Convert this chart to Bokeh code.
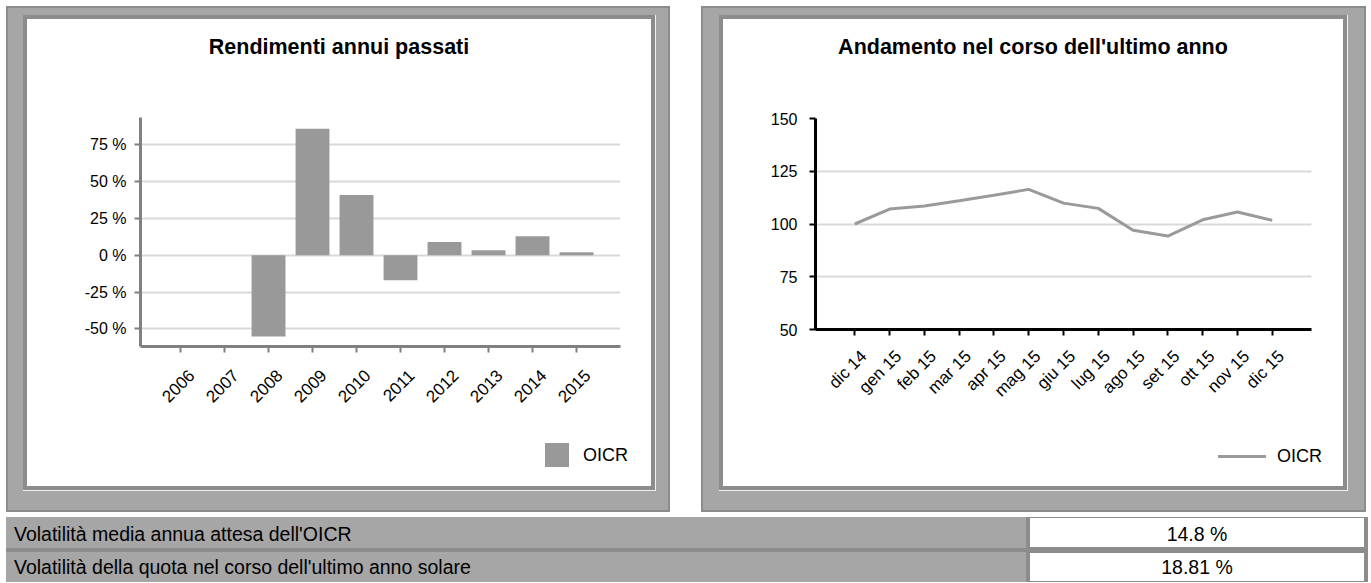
import math
from bokeh.plotting import figure
from bokeh.models import Div, Spacer, FixedTicker, Range1d, LinearAxis
from bokeh.layouts import row, column
from bokeh.embed import file_html
from bokeh.resources import INLINE

FONT = "Liberation Sans"
GRAY = "#a6a6a6"
DARK = "#8c8c8c"
BAR = "#999999"
LINE = "#9a9a9a"

# ---------------- data ----------------
years = [2006, 2007, 2008, 2009, 2010, 2011, 2012, 2013, 2014, 2015]
annual_returns = [None, None, -55.2, 85.8, 40.9, -17.0, 8.9, 3.4, 12.9, 2.0]
pct_ticks = [-50, -25, 0, 25, 50, 75]
pct_labels = ["-50 %", "-25 %", "0 %", "25 %", "50 %", "75 %"]

months = ["dic 14", "gen 15", "feb 15", "mar 15", "apr 15", "mag 15", "giu 15",
          "lug 15", "ago 15", "set 15", "ott 15", "nov 15", "dic 15"]
nav = [100.0, 107.1, 108.5, 111.0, 113.6, 116.4, 109.9, 107.4, 97.0, 94.3, 102.0, 105.7, 101.7]
nav_ticks = [50, 75, 100, 125, 150]

series_name = "OICR"
title_left = "Rendimenti annui passati"
title_right = "Andamento nel corso dell'ultimo anno"

table_labels = ["Volatilità media annua attesa dell'OICR",
                "Volatilità della quota nel corso dell'ultimo anno solare"]
table_values = ["14.8 %", "18.81 %"]


def bg(c):
    return {"background-color": c}


def sp(w, h, c="white"):
    return Spacer(width=w, height=h, styles=bg(c))


def frame(child, w, h, top, right, bottom, left, color):
    W = w + left + right
    return column(sp(W, top, color),
                  row(sp(left, h, color), child, sp(right, h, color)),
                  sp(W, bottom, color))


def edge_rb(child, w, h, color):
    # 1px light line on the right and bottom of the inner box
    return column(row(child, sp(1, h, color)), sp(w + 1, 1, color))


def title_div(text, w):
    return Div(text=text, width=w, height=56, margin=0,
               styles={"background-color": "white", "font-family": FONT, "font-size": "21.5px",
                       "font-weight": "bold", "text-align": "center", "line-height": "56px",
                       "color": "black", "white-space": "nowrap"})


def text_div(text, w, h):
    return Div(text=text, width=w, height=h, margin=0,
               styles={"background-color": "white", "font-family": FONT, "font-size": "18px",
                       "line-height": f"{h}px", "color": "black", "white-space": "nowrap"})


def style_axes(p, color, ystandoff, ticks, labels, x_range, shift, xstandoff):
    for ax in (p.xaxis[0], p.yaxis[0]):
        ax.axis_line_color = color
        ax.axis_line_width = 3
        ax.major_tick_line_color = color
        ax.major_tick_line_width = 2
        ax.major_tick_in = 0
        ax.major_tick_out = 6
        ax.minor_tick_line_color = None
        ax.major_label_text_font = FONT
        ax.major_label_text_font_size = "16px"
        ax.major_label_text_color = "black"
    p.yaxis.major_label_standoff = ystandoff
    # main x axis: line + tick marks only (drawn as minor ticks, so no labels here)
    xa = p.xaxis[0]
    xa.ticker = FixedTicker(ticks=[], minor_ticks=ticks)
    xa.minor_tick_line_color = color
    xa.minor_tick_line_width = 2
    xa.minor_tick_in = 0
    xa.minor_tick_out = 6
    xa.major_label_standoff = 0
    # label axis on a slightly shifted range, so rotated labels sit centred under the ticks
    p.extra_x_ranges = {"lab": Range1d(x_range[0] - shift, x_range[1] - shift)}
    lab = LinearAxis(x_range_name="lab", ticker=FixedTicker(ticks=ticks),
                     major_label_overrides=dict(zip(ticks, labels)),
                     axis_line_color=None, major_tick_line_color=None, minor_tick_line_color=None,
                     major_tick_in=0, major_tick_out=0, major_label_standoff=xstandoff,
                     major_label_orientation=math.pi / 4, major_label_text_font=FONT,
                     major_label_text_font_size="17px", major_label_text_color="black")
    p.add_layout(lab, "below")
    p.xgrid.visible = False
    p.ygrid.grid_line_color = "#d9d9d9"
    p.ygrid.grid_line_width = 2
    p.outline_line_color = None
    p.background_fill_color = "white"
    p.border_fill_color = "white"


# ---------------- left chart ----------------
bx = [y for y, v in zip(years, annual_returns) if v is not None]
bv = [v for v in annual_returns if v is not None]
xr1 = (2005.09, 2016.0)

p1 = figure(width=624, height=368, x_range=Range1d(*xr1), y_range=Range1d(-62, 93.5),
            output_backend="svg", toolbar_location=None,
            min_border_left=113, min_border_right=31, min_border_top=42, min_border_bottom=97)
bars = p1.vbar(x=bx, top=bv, bottom=0, width=0.77, fill_color=BAR, line_color=None)
p1.yaxis.ticker = FixedTicker(ticks=pct_ticks)
p1.yaxis.major_label_overrides = dict(zip(pct_ticks, pct_labels))
style_axes(p1, "#808080", 8, years, [str(y) for y in years], xr1, 0.25, 20)

legend1 = row(sp(518, 24), sp(24, 24, BAR), sp(14, 24), text_div(series_name, 68, 24))

# ---------------- right chart ----------------
xs = list(range(len(months)))
xr2 = (-1.13, 13.13)
p2 = figure(width=620, height=371, x_range=Range1d(*xr2), y_range=Range1d(50, 150),
            output_backend="svg", toolbar_location=None,
            min_border_left=92, min_border_right=32, min_border_top=43, min_border_bottom=117)
ln = p2.line(x=xs, y=nav, line_color=LINE, line_width=3)
p2.yaxis.ticker = FixedTicker(ticks=nav_ticks)
style_axes(p2, "black", 12, xs, months, xr2, 0.26, 18)

legend2 = row(sp(495, 20),
              column(sp(48, 9), sp(48, 3, LINE), sp(48, 8)),
              sp(11, 20), text_div(series_name, 66, 20))

# ---------------- panels ----------------
white1 = column(title_div(title_left, 624), p1, legend1, sp(624, 19))
box1 = edge_rb(frame(white1, 624, 467, 4, 4, 4, 4, DARK), 632, 475, "#f2f2f2")
pan1 = frame(frame(box1, 633, 476, 7, 12, 19, 15, GRAY), 660, 502, 2, 2, 2, 2, DARK)

white2 = column(title_div(title_right, 620), p2, legend2, sp(620, 20))
box2 = edge_rb(frame(white2, 620, 467, 4, 4, 4, 4, DARK), 628, 475, "#f2f2f2")
pan2 = frame(frame(box2, 629, 476, 7, 16, 19, 16, GRAY), 661, 502, 2, 2, 2, 2, DARK)

top = row(sp(6, 506), pan1, sp(31, 506), pan2)


# ---------------- table ----------------
def table_row(label, val, h, lh):
    lab = Div(text=label, width=1020, height=h, margin=0,
              styles={"background-color": GRAY, "box-sizing": "border-box", "padding-left": "8px",
                      "font-family": FONT, "font-size": "19.5px", "line-height": f"{lh}px",
                      "color": "black", "white-space": "nowrap", "overflow": "hidden"})
    vdiv = Div(text=val, width=336, height=h, margin=0,
               styles={"background-color": "white", "box-sizing": "border-box",
                       "border": f"1px solid {DARK}", "text-align": "center",
                       "font-family": FONT, "font-size": "19.5px", "line-height": f"{lh - 2}px",
                       "color": "black", "overflow": "hidden"})
    return row(lab, sp(3, h, DARK), vdiv, sp(3, h, DARK))


table = column(table_row(table_labels[0], table_values[0], 31, 35),
               sp(1362, 4, DARK),
               table_row(table_labels[1], table_values[1], 30, 30))

page = column(sp(10, 6), top, sp(10, 5), row(sp(6, 65), table))

open("out.html", "w").write(file_html(page, INLINE))
